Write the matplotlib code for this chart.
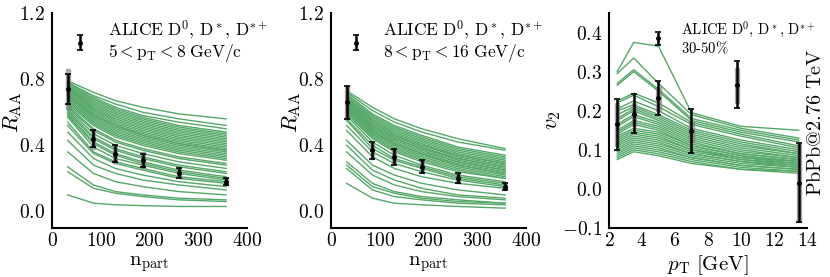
import numpy as np
import matplotlib
matplotlib.use('Agg')
import matplotlib.pyplot as plt
from matplotlib.ticker import FuncFormatter

plt.rcParams['mathtext.fontset'] = 'cm'
plt.rcParams['font.family'] = 'serif'

green = '#55a868'

# ---- data: centrality panels (R_AA vs n_part) ----
npart = [32, 85, 130, 186, 260, 357]

raa_models_lo = [  # 5 < pT < 8 GeV/c
    [0.79, 0.72, 0.67, 0.63, 0.59, 0.56],
    [0.78, 0.70, 0.65, 0.60, 0.56, 0.52],
    [0.78, 0.69, 0.63, 0.58, 0.54, 0.50],
    [0.77, 0.68, 0.62, 0.57, 0.52, 0.48],
    [0.77, 0.67, 0.61, 0.56, 0.51, 0.47],
    [0.76, 0.66, 0.60, 0.55, 0.50, 0.46],
    [0.76, 0.65, 0.59, 0.54, 0.49, 0.45],
    [0.75, 0.64, 0.58, 0.53, 0.48, 0.44],
    [0.75, 0.63, 0.57, 0.52, 0.47, 0.43],
    [0.74, 0.62, 0.56, 0.51, 0.46, 0.42],
    [0.74, 0.62, 0.55, 0.50, 0.45, 0.41],
    [0.73, 0.61, 0.54, 0.49, 0.44, 0.40],
    [0.72, 0.60, 0.53, 0.48, 0.43, 0.39],
    [0.72, 0.59, 0.52, 0.47, 0.42, 0.38],
    [0.71, 0.58, 0.52, 0.46, 0.41, 0.37],
    [0.70, 0.58, 0.51, 0.46, 0.41, 0.37],
    [0.70, 0.57, 0.50, 0.45, 0.40, 0.36],
    [0.69, 0.56, 0.49, 0.44, 0.39, 0.35],
    [0.68, 0.55, 0.48, 0.43, 0.38, 0.34],
    [0.67, 0.54, 0.47, 0.42, 0.37, 0.33],
    [0.66, 0.53, 0.46, 0.41, 0.36, 0.32],
    [0.65, 0.52, 0.45, 0.40, 0.35, 0.31],
    [0.64, 0.50, 0.43, 0.38, 0.33, 0.29],
    [0.63, 0.49, 0.42, 0.37, 0.32, 0.28],
    [0.62, 0.47, 0.40, 0.35, 0.30, 0.26],
    [0.61, 0.45, 0.38, 0.33, 0.28, 0.24],
    [0.60, 0.44, 0.37, 0.32, 0.27, 0.23],
    [0.59, 0.42, 0.35, 0.30, 0.25, 0.21],
    [0.58, 0.41, 0.34, 0.29, 0.24, 0.20],
    [0.57, 0.39, 0.32, 0.28, 0.23, 0.19],
    [0.54, 0.36, 0.30, 0.26, 0.21, 0.18],
    [0.52, 0.35, 0.29, 0.25, 0.20, 0.17],
    [0.48, 0.32, 0.26, 0.22, 0.18, 0.15],
    [0.43, 0.28, 0.23, 0.19, 0.16, 0.13],
    [0.36, 0.23, 0.18, 0.15, 0.12, 0.10],
    [0.27, 0.16, 0.12, 0.10, 0.08, 0.07],
    [0.24, 0.14, 0.11, 0.09, 0.07, 0.06],
    [0.10, 0.05, 0.04, 0.035, 0.03, 0.03],
]
raa_data_lo = [0.74, 0.44, 0.35, 0.31, 0.23, 0.18]
raa_stat_lo = [0.09, 0.05, 0.05, 0.04, 0.03, 0.02]
raa_sys_lo_low = [0.62, 0.38, 0.29, 0.26, 0.20, 0.16]
raa_sys_lo_high = [0.86, 0.50, 0.40, 0.36, 0.26, 0.20]

raa_models_hi = [  # 8 < pT < 16 GeV/c
    [0.73, 0.63, 0.56, 0.50, 0.44, 0.38],
    [0.72, 0.61, 0.54, 0.48, 0.42, 0.37],
    [0.71, 0.59, 0.52, 0.46, 0.39, 0.34],
    [0.70, 0.58, 0.51, 0.45, 0.38, 0.33],
    [0.69, 0.57, 0.50, 0.44, 0.37, 0.32],
    [0.69, 0.56, 0.49, 0.43, 0.36, 0.31],
    [0.68, 0.55, 0.48, 0.42, 0.35, 0.30],
    [0.68, 0.55, 0.47, 0.41, 0.34, 0.29],
    [0.67, 0.54, 0.46, 0.40, 0.34, 0.29],
    [0.67, 0.53, 0.46, 0.40, 0.33, 0.28],
    [0.66, 0.52, 0.45, 0.39, 0.32, 0.27],
    [0.66, 0.52, 0.44, 0.38, 0.32, 0.27],
    [0.65, 0.51, 0.44, 0.38, 0.31, 0.26],
    [0.65, 0.50, 0.43, 0.37, 0.30, 0.25],
    [0.64, 0.50, 0.42, 0.36, 0.30, 0.25],
    [0.64, 0.49, 0.41, 0.35, 0.29, 0.24],
    [0.63, 0.48, 0.41, 0.35, 0.28, 0.23],
    [0.63, 0.48, 0.40, 0.34, 0.28, 0.23],
    [0.62, 0.47, 0.39, 0.33, 0.27, 0.22],
    [0.61, 0.46, 0.38, 0.32, 0.26, 0.21],
    [0.60, 0.45, 0.37, 0.31, 0.25, 0.20],
    [0.59, 0.44, 0.36, 0.30, 0.24, 0.20],
    [0.58, 0.42, 0.34, 0.28, 0.22, 0.18],
    [0.56, 0.40, 0.32, 0.27, 0.21, 0.17],
    [0.55, 0.38, 0.31, 0.26, 0.20, 0.16],
    [0.52, 0.36, 0.29, 0.24, 0.19, 0.15],
    [0.49, 0.33, 0.26, 0.21, 0.17, 0.14],
    [0.43, 0.28, 0.22, 0.17, 0.13, 0.10],
    [0.40, 0.25, 0.19, 0.14, 0.10, 0.08],
    [0.36, 0.22, 0.16, 0.12, 0.09, 0.07],
    [0.30, 0.17, 0.12, 0.09, 0.07, 0.05],
    [0.28, 0.15, 0.11, 0.08, 0.06, 0.05],
    [0.26, 0.13, 0.09, 0.07, 0.05, 0.04],
    [0.17, 0.08, 0.05, 0.04, 0.03, 0.02],
]
raa_data_hi = [0.66, 0.37, 0.33, 0.27, 0.20, 0.15]
raa_stat_hi = [0.10, 0.05, 0.05, 0.04, 0.03, 0.02]
raa_sys_hi_low = [0.56, 0.32, 0.29, 0.23, 0.17, 0.13]
raa_sys_hi_high = [0.76, 0.41, 0.37, 0.31, 0.23, 0.17]

# ---- data: v2 vs pT (30-50%) ----
pt_model = [2.5, 3.5, 5.0, 7.0, 10.0, 13.5]
v2_models = [
    [0.300, 0.375, 0.365, 0.195, 0.160, 0.150],
    [0.295, 0.335, 0.270, 0.190, 0.155, 0.130],
    [0.270, 0.305, 0.255, 0.180, 0.150, 0.125],
    [0.265, 0.300, 0.250, 0.175, 0.145, 0.120],
    [0.225, 0.245, 0.220, 0.170, 0.140, 0.110],
    [0.220, 0.240, 0.210, 0.165, 0.135, 0.105],
    [0.205, 0.225, 0.200, 0.155, 0.125, 0.100],
    [0.200, 0.215, 0.190, 0.150, 0.120, 0.095],
    [0.190, 0.210, 0.185, 0.145, 0.115, 0.090],
    [0.180, 0.205, 0.180, 0.140, 0.110, 0.090],
    [0.175, 0.200, 0.175, 0.135, 0.105, 0.085],
    [0.165, 0.190, 0.170, 0.130, 0.100, 0.080],
    [0.160, 0.185, 0.165, 0.125, 0.095, 0.080],
    [0.150, 0.175, 0.160, 0.120, 0.090, 0.075],
    [0.145, 0.170, 0.155, 0.115, 0.090, 0.075],
    [0.140, 0.165, 0.150, 0.110, 0.085, 0.070],
    [0.135, 0.155, 0.145, 0.110, 0.085, 0.070],
    [0.130, 0.150, 0.140, 0.105, 0.080, 0.070],
    [0.125, 0.145, 0.135, 0.100, 0.080, 0.065],
    [0.120, 0.140, 0.130, 0.100, 0.075, 0.065],
    [0.115, 0.135, 0.125, 0.095, 0.075, 0.060],
    [0.110, 0.130, 0.120, 0.090, 0.070, 0.060],
    [0.105, 0.125, 0.115, 0.090, 0.070, 0.055],
    [0.100, 0.120, 0.110, 0.085, 0.065, 0.055],
    [0.095, 0.115, 0.105, 0.080, 0.060, 0.050],
    [0.090, 0.110, 0.100, 0.080, 0.060, 0.050],
    [0.085, 0.105, 0.095, 0.075, 0.055, 0.045],
    [0.080, 0.100, 0.090, 0.070, 0.050, 0.045],
    [0.075, 0.095, 0.085, 0.065, 0.050, 0.040],
]
pt_data = [2.5, 3.5, 5.0, 7.0, 9.75, 13.5]
v2_data = [0.165, 0.192, 0.232, 0.148, 0.266, 0.016]
v2_stat = [0.065, 0.05, 0.043, 0.057, 0.06, 0.102]
v2_sys_low = [0.11, 0.16, 0.20, 0.12, 0.22, -0.085]
v2_sys_high = [0.22, 0.22, 0.26, 0.17, 0.31, 0.115]

# legend-style marker for ALICE in each panel: (x, y, err)
key_lo = (57, 1.02, 0.045)
key_hi = (52, 1.02, 0.045)
key_v2 = (5.0, 0.385, 0.017)

alice = r'$\mathrm{ALICE\ D^0,\,D^*,\,D^{*+}}$'


def tick_fmt(v, pos):
    return r'$%.1f$' % v if abs(v) > 1e-9 else r'$0.0$'


def int_fmt(v, pos):
    return r'$%d$' % int(round(v))


def style_axis(ax):
    for s in ['top', 'right']:
        ax.spines[s].set_visible(False)
    for s in ['left', 'bottom']:
        ax.spines[s].set_linewidth(1.5)
        ax.spines[s].set_color('black')
    ax.tick_params(length=0, labelsize=14, pad=5)
    ax.tick_params(axis='x', pad=3)
    ax.xaxis.set_major_formatter(FuncFormatter(int_fmt))
    ax.yaxis.set_major_formatter(FuncFormatter(tick_fmt))


def draw_data(ax, x, y, err, lo, hi, width, key):
    lo = np.array(lo)
    hi = np.array(hi)
    ax.bar(x, hi - lo, bottom=lo, width=width, color='grey', alpha=0.55,
           edgecolor='#777777', linewidth=1.0, zorder=3)
    ax.errorbar(x, y, yerr=err, fmt='o', color='black', ms=2.5, elinewidth=1.8,
                capsize=2, capthick=1.2, zorder=4)
    ax.errorbar([key[0]], [key[1]], yerr=[key[2]], fmt='o', color='black',
                ms=2.5, elinewidth=1.8, capsize=2, capthick=1.2, zorder=4)


def place_labels(ax, ylx, yly, xly):
    ax.yaxis.set_label_coords(ylx, yly)
    ax.yaxis.label.set_verticalalignment('center')
    ax.xaxis.set_label_coords(0.5, xly)
    ax.xaxis.label.set_verticalalignment('center')


fig = plt.figure(figsize=(8.3, 2.77), dpi=100)

# panel 1
ax1 = fig.add_axes([0.0627, 0.177, 0.235, 0.776])
for row in raa_models_lo:
    ax1.plot(npart, row, color=green, lw=1.0, zorder=2)
draw_data(ax1, npart, raa_data_lo, raa_stat_lo, raa_sys_lo_low, raa_sys_lo_high, 8, key_lo)
ax1.set_xlim(0, 400)
ax1.set_ylim(-0.1, 1.2)
ax1.set_xticks([0, 100, 200, 300, 400])
ax1.set_yticks([0.0, 0.4, 0.8, 1.2])
style_axis(ax1)
ax1.set_ylabel(r'$R_{\mathrm{AA}}$', fontsize=16)
ax1.set_xlabel(r'$\mathrm{n}_{\mathrm{part}}$', fontsize=15)
place_labels(ax1, -0.2, 0.54, -0.17)
ax1.text(0.285, 0.87, alice + '\n' + r'$5 < \mathrm{p_T} < 8\ \mathrm{GeV/c}$',
         transform=ax1.transAxes, fontsize=12.5, va='center', linespacing=1.0)

# panel 2
ax2 = fig.add_axes([0.3988, 0.177, 0.235, 0.776])
for row in raa_models_hi:
    ax2.plot(npart, row, color=green, lw=1.0, zorder=2)
draw_data(ax2, npart, raa_data_hi, raa_stat_hi, raa_sys_hi_low, raa_sys_hi_high, 8, key_hi)
ax2.set_xlim(0, 400)
ax2.set_ylim(-0.1, 1.2)
ax2.set_xticks([0, 100, 200, 300, 400])
ax2.set_yticks([0.0, 0.4, 0.8, 1.2])
style_axis(ax2)
ax2.set_ylabel(r'$R_{\mathrm{AA}}$', fontsize=16)
ax2.set_xlabel(r'$\mathrm{n}_{\mathrm{part}}$', fontsize=15)
place_labels(ax2, -0.2, 0.54, -0.17)
ax2.text(0.265, 0.87, alice + '\n' + r'$8 < \mathrm{p_T} < 16\ \mathrm{GeV/c}$',
         transform=ax2.transAxes, fontsize=12.5, va='center', linespacing=1.0)

# panel 3
ax3 = fig.add_axes([0.7337, 0.177, 0.2386, 0.776])
for row in v2_models:
    ax3.plot(pt_model, row, color=green, lw=1.0, zorder=2)
draw_data(ax3, pt_data, v2_data, v2_stat, v2_sys_low, v2_sys_high, 0.25, key_v2)
ax3.set_xlim(2, 14)
ax3.set_ylim(-0.1, 0.45)
ax3.set_xticks([2, 4, 6, 8, 10, 12, 14])
ax3.set_yticks([-0.1, 0.0, 0.1, 0.2, 0.3, 0.4])
style_axis(ax3)
ax3.set_ylabel(r'$v_2$', fontsize=16)
ax3.set_xlabel(r'$p_{\mathrm{T}}\ [\mathrm{GeV}]$', fontsize=15)
place_labels(ax3, -0.29, 0.5, -0.175)
ax3.text(0.365, 0.885, alice + '\n' + r'$\mathrm{30\text{-}50\%}$',
         transform=ax3.transAxes, fontsize=10.5, va='center', linespacing=1.0)
fig.text(0.983, 0.56, r'$\mathrm{PbPb@2.76\ TeV}$', rotation=90, fontsize=14.5,
         va='center', ha='center')

fig.savefig('out.png', dpi=100)
